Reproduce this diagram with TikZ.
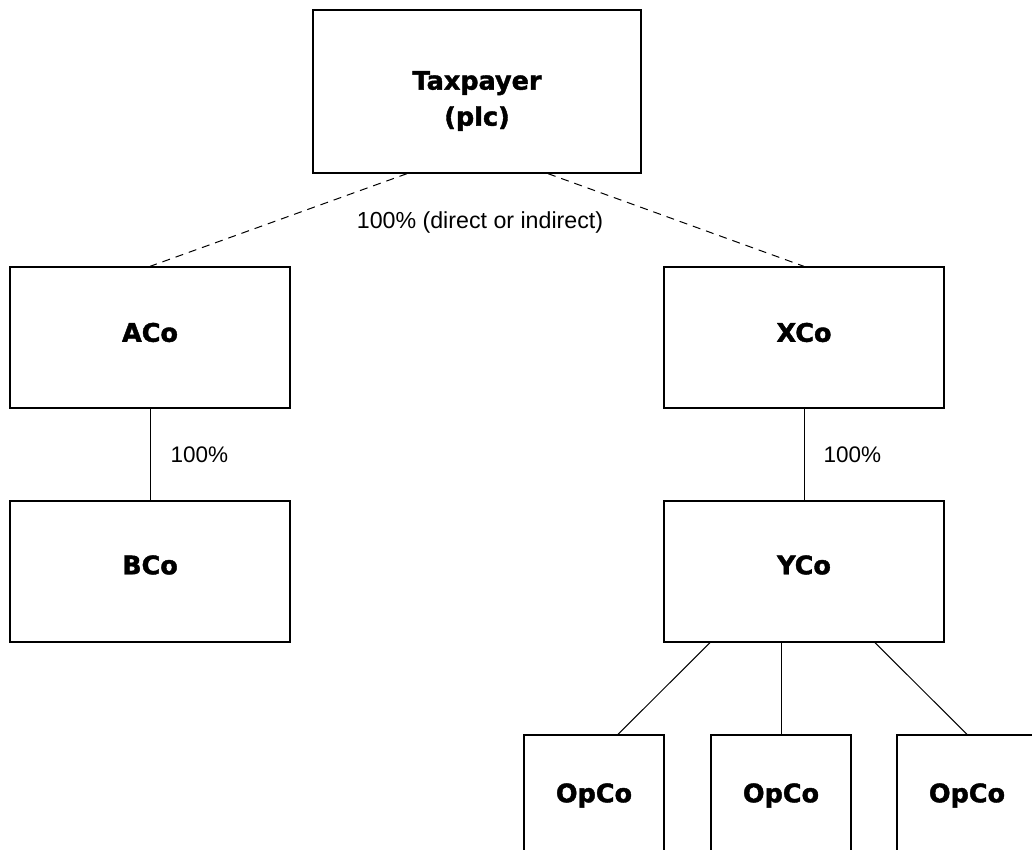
\documentclass[tikz,border=0pt]{standalone}
\usepackage{fontspec}
\setmainfont{Liberation Sans}
\newfontfamily\heavyfont{DejaVu Sans}[BoldFeatures={FakeBold=1.6}]
\begin{document}
\begin{tikzpicture}[x=1pt,y=-1pt,
  box/.style={draw, line width=1.3pt, inner sep=0pt,
    font=\heavyfont\bfseries\fontsize{25.5}{36}\selectfont, text height=18.5pt},
  boldtext/.style={inner sep=0pt, align=center,
    font=\heavyfont\bfseries\fontsize{25.5}{36}\selectfont},
  pct/.style={inner sep=0pt, font=\fontsize{22.5}{27}\selectfont,
    text height=16pt, text depth=0pt},
  widepct/.style={pct, font=\fontsize{23.2}{27}\selectfont},
  link/.style={line width=1pt},
  share/.style={line width=1pt, dash pattern=on 8pt off 6pt}]
\useasboundingbox (0,0) rectangle (1032,849);

\node[box, minimum width=328pt, minimum height=163pt] (tp) at (477,91.5) {};
\node[boldtext] (tptext) at (477,101) {Taxpayer\\(plc)};

\node[box, minimum width=280pt, minimum height=141pt, text depth=10pt] (aco) at (150,337.5) {ACo};
\node[box, minimum width=280pt, minimum height=141pt, text depth=13pt] (bco) at (150,571.5) {BCo};
\node[box, minimum width=280pt, minimum height=141pt, text depth=10pt] (xco) at (804,337.5) {XCo};
\node[box, minimum width=280pt, minimum height=141pt, text depth=13pt] (yco) at (804,571.5) {YCo};

\node[box, minimum width=140pt, minimum height=116pt, text depth=0pt] (op1) at (594,793) {OpCo};
\node[box, minimum width=140pt, minimum height=116pt, text depth=0pt] (op2) at (781,793) {OpCo};
\node[box, minimum width=140pt, minimum height=116pt, text depth=0pt] (op3) at (967,793) {OpCo};

\draw[share] ([xshift=-70pt]tp.south) -- (aco.north);
\draw[share] ([xshift=71pt]tp.south) -- (xco.north);
\node[widepct] (lbl) at (480,220) {100\% (direct or indirect)};

\draw[link] (aco) -- (bco) node[pct, midway, right=20pt] (p1) {100\%};
\draw[link] (xco) -- (yco) node[pct, midway, right=19pt] (p2) {100\%};

\draw[link] ([xshift=-94pt]yco.south) -- ([xshift=24pt]op1.north);
\draw[link] ([xshift=-23pt]yco.south) -- (op2.north);
\draw[link] ([xshift=71pt]yco.south) -- (op3.north);
\end{tikzpicture}
\end{document}
